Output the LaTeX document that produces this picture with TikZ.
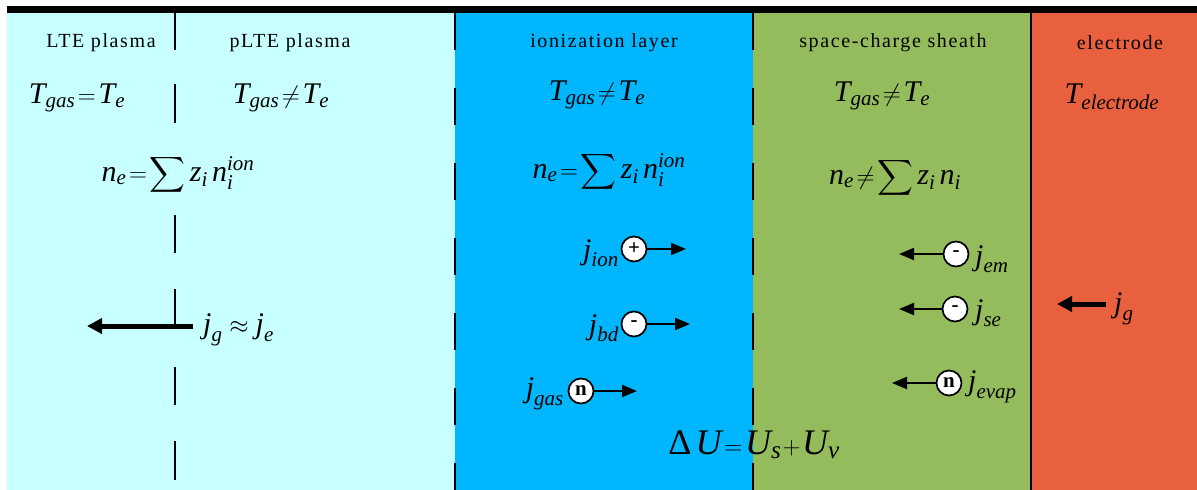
\documentclass[tikz,border=0pt]{standalone}
\usepackage{amsmath}
\usepackage{fontspec}
\setmainfont{Liberation Serif}
\usetikzlibrary{arrows.meta}
\definecolor{ltecyan}{HTML}{C8FFFF}
\definecolor{ionblue}{HTML}{00B6FF}
\definecolor{sheathgreen}{HTML}{95BC5C}
\definecolor{electorange}{HTML}{E9603E}
\newcommand\vi[1]{\textit{#1}}
\tikzset{
  title/.style={font=\fontsize{20}{23}\selectfont\addfontfeatures{LetterSpace=8}, inner sep=0pt},
  formula/.style={font=\fontsize{30}{35}\selectfont, inner sep=0pt},
  cur/.style={font=\fontsize{30}{35}\selectfont, inner sep=0pt},
  part/.style={circle, draw, fill=white, line width=1.7pt, inner sep=0pt, minimum size=25pt, font=\fontsize{21}{21}\selectfont\bfseries},
  flow/.style={line width=1.9pt, -{Triangle[length=15pt,width=12pt]}},
  bigflow/.style={line width=5pt, -{Triangle[length=15pt,width=15pt]}},
  border/.style={line width=2pt},
  dashborder/.style={line width=2pt, dash pattern=on 37pt off 38pt},
}
\begin{document}
\begin{tikzpicture}[x=1pt,y=-1pt]
\useasboundingbox (0,0) rectangle (1197,490);
\fill[white] (0,0) rectangle (1197,490);
% panels
\fill[ltecyan] (7,13) rectangle (455,490);
\fill[ionblue] (455,13) rectangle (753,490);
\fill[sheathgreen] (753,13) rectangle (1031,490);
\fill[electorange] (1031,13) rectangle (1197,490);
\fill[black] (7,6) rectangle (1197,13);
% borders
\draw[dashborder] (455,13) -- (455,490);
\draw[dashborder] (753,13) -- (753,490);
\draw[border] (1031,13) -- (1031,490);
% LTE / pLTE divider
\draw[border] (175,13) -- (175,50);
\draw[border] (175,84) -- (175,123);
\draw[border] (175,215) -- (175,253);
\draw[border] (175,289) -- (175,326);
\draw[border] (175,367) -- (175,405);
\draw[border] (175,441) -- (175,480);
% titles
\node[title] (tlte) at (101,43) {LTE plasma};
\node[title] (tplte) at (290,43) {pLTE plasma};
\node[title] (tion) at (604,43) {ionization layer};
\node[title] (tsheath) at (893,43) {space-charge sheath};
\node[title] (telec) at (1120,43) {electrode};
% temperatures
\node[formula] (Tlte) at (77,98) {$\vi{T}_{\vi{gas}}\!=\!\vi{T}_{\vi{e}}$};
\node[formula] (Tplte) at (281,98) {$\vi{T}_{\vi{gas}}\!\neq\! \vi{T}_{\vi{e}}$};
\node[formula] (Tion) at (597,95) {$\vi{T}_{\vi{gas}}\!\neq\! \vi{T}_{\vi{e}}$};
\node[formula] (Tsheath) at (882,96) {$\vi{T}_{\vi{gas}}\!\neq\! \vi{T}_{\vi{e}}$};
\node[formula] (Telec) at (1112,97) {$\vi{T}_{\vi{electrode}}$};
% densities
\node[formula] (nlte) at (178,175) {$\vi{n}_{\vi{e}}\!=\!\displaystyle\sum \vi{z}_{\vi{i}}\,\vi{n}_{\vi{i}}^{\vi{ion}}$};
\node[formula] (nion) at (609,172) {$\vi{n}_{\vi{e}}\!=\!\displaystyle\sum \vi{z}_{\vi{i}}\,\vi{n}_{\vi{i}}^{\vi{ion}}$};
\node[formula] (nsheath) at (895,178) {$\vi{n}_{\vi{e}}\!\neq\!\displaystyle\sum \vi{z}_{\vi{i}}\,\vi{n}_{\vi{i}}$};
% current in LTE plasma
\node[cur, anchor=west] (jge) at (203,330) {$\vi{j}_{\vi{g}}\approx \vi{j}_{\vi{e}}$};
\coordinate (jgetip) at (87,326);
\draw[bigflow] (jgetip -| jge.west) ++(-10,0) -- (jgetip);
% ionization layer currents
\node[part] (pion) at (634,249) {+};
\node[cur, anchor=east] (jion) at (619,253) {$\vi{j}_{\vi{ion}}$};
\coordinate (pionE) at (686,249);
\draw[flow] (pion) -- (pionE);
\node[part] (pbd) at (634,324) {-};
\node[cur, anchor=east] (jbd) at (619,328) {$\vi{j}_{\vi{bd}}$};
\coordinate (pbdE) at (690,324);
\draw[flow] (pbd) -- (pbdE);
\node[part] (pgas) at (581,391) {n};
\node[cur, anchor=east] (jgas) at (564,394) {$\vi{j}_{\vi{gas}}$};
\coordinate (pgasE) at (637,391);
\draw[flow] (pgas) -- (pgasE);
% sheath currents
\node[part] (pem) at (956,254) {-};
\node[cur, anchor=west] (jem) at (975,259) {$\vi{j}_{\vi{em}}$};
\coordinate (pemW) at (899,254);
\draw[flow] (pem) -- (pemW);
\node[part] (pse) at (955,309) {-};
\node[cur, anchor=west] (jse) at (975,313) {$\vi{j}_{\vi{se}}$};
\coordinate (pseW) at (899,309);
\draw[flow] (pse) -- (pseW);
\node[part] (pevap) at (949,383) {n};
\node[cur, anchor=west] (jevap) at (968,387) {$\vi{j}_{\vi{evap}}$};
\coordinate (pevapW) at (892,383);
\draw[flow] (pevap) -- (pevapW);
% electrode current
\node[cur, anchor=west] (jgel) at (1114,309) {$\vi{j}_{\vi{g}}$};
\coordinate (jgeltip) at (1057,304);
\draw[bigflow] (jgeltip -| jgel.west) ++(-8,0) -- (jgeltip);
% voltage
\node[formula, font=\fontsize{36}{40}\selectfont] (dU) at (754,445) {$\text{Δ}\,\vi{U}\!=\!\vi{U}_{\vi{s}}\!+\!\vi{U}_{\vi{v}}$};
\end{tikzpicture}
\end{document}
